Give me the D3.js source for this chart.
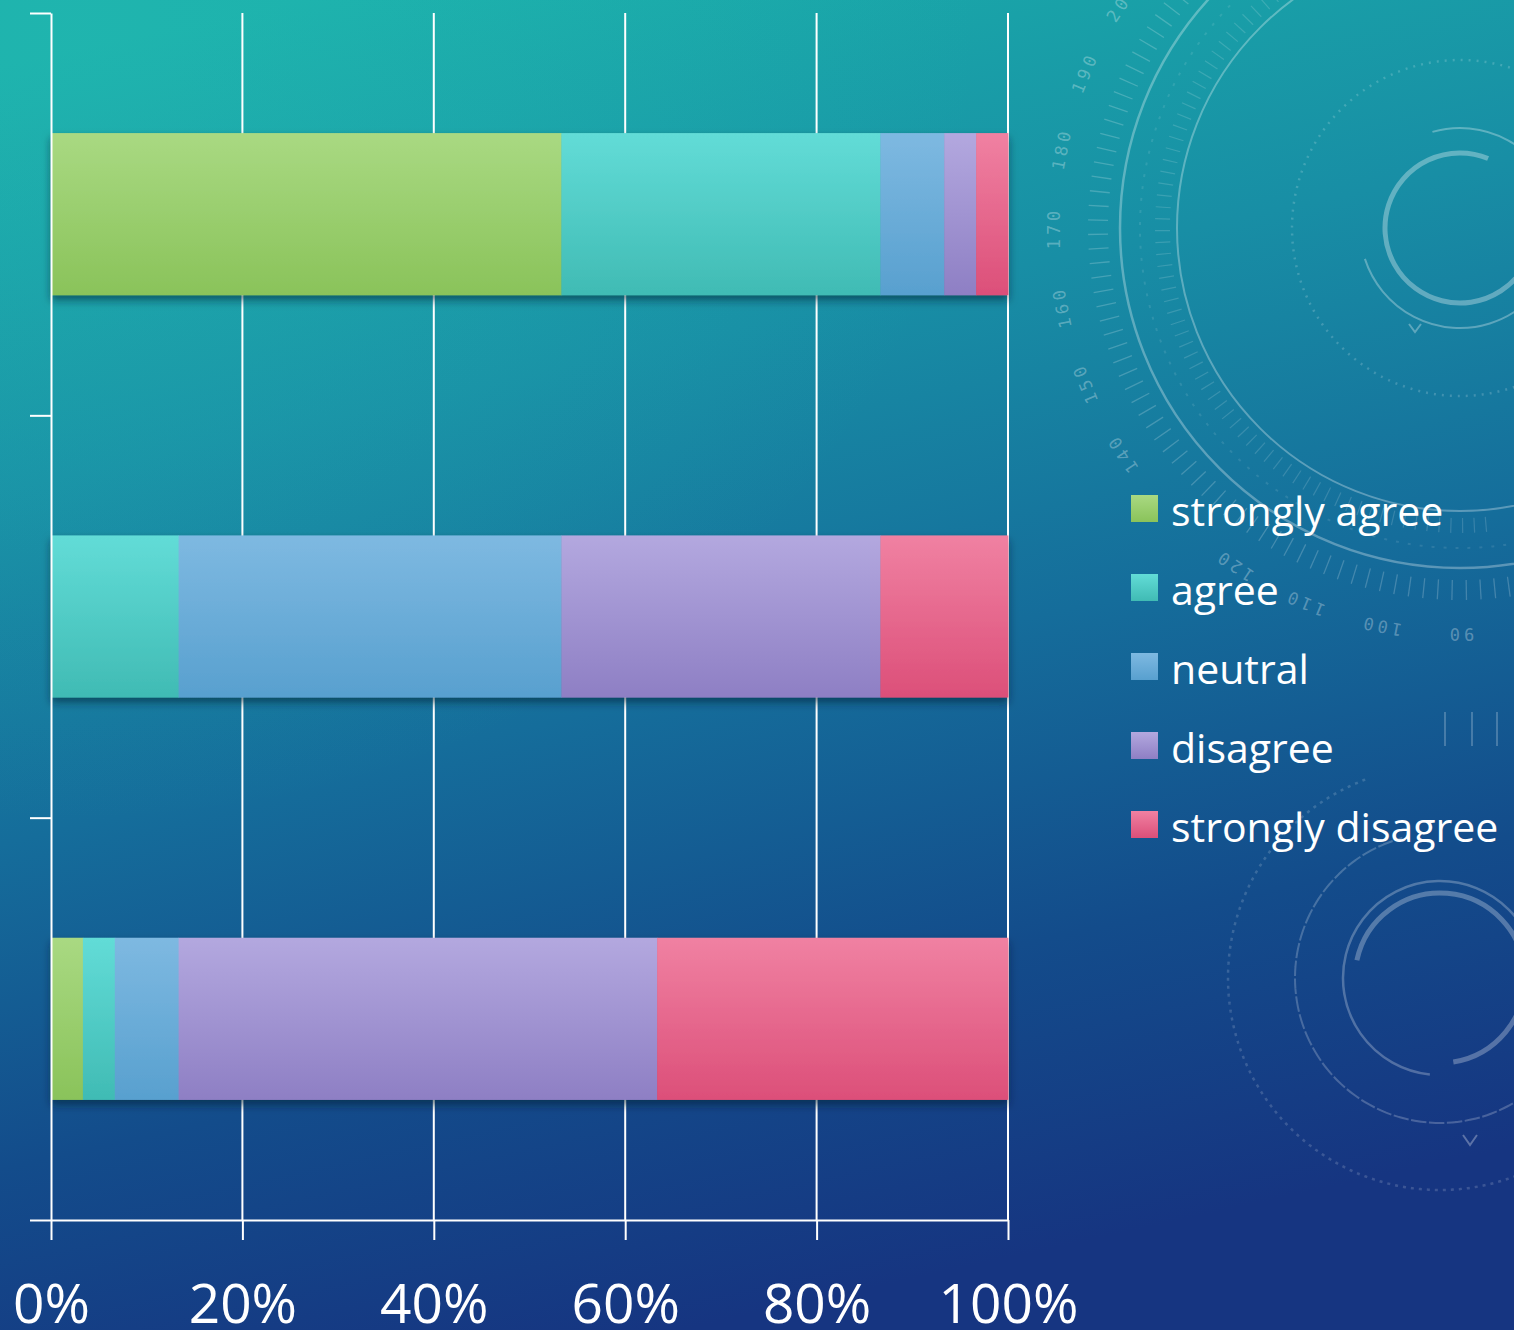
<!DOCTYPE html>
<html>
<head>
<meta charset="utf-8">
<script src="https://cdn.jsdelivr.net/npm/d3@7"></script>
<style>
  html, body { margin: 0; padding: 0; background: #16609a; }
  svg { display: block; }
</style>
</head>
<body>
<svg id="chart" width="1514" height="1330"></svg>
<script>
// Survey responses per statement (counts out of 30), top bar first
const statements = ["Statement 1", "Statement 2", "Statement 3"];
const stronglyAgree    = [16, 0, 1];
const agree            = [10, 4, 1];
const neutral          = [2, 12, 2];
const disagree         = [1, 10, 15];
const stronglyDisagree = [1, 4, 11];

const responseKeys   = ["stronglyAgree", "agree", "neutral", "disagree", "stronglyDisagree"];
const responseLabels = ["strongly agree", "agree", "neutral", "disagree", "strongly disagree"];
const xTicks = [0, 0.2, 0.4, 0.6, 0.8, 1];

// top / bottom colour of each response gradient
const colorTop    = ["#a9d982", "#62dcd7", "#7eb9e1", "#b3a8df", "#f081a2"];
const colorBottom = ["#8ac35a", "#40bbb4", "#58a0cf", "#8e7fc4", "#dc4f79"];

const rows = statements.map((s, i) => ({
  statement: s,
  stronglyAgree: stronglyAgree[i],
  agree: agree[i],
  neutral: neutral[i],
  disagree: disagree[i],
  stronglyDisagree: stronglyDisagree[i]
}));

const W = 1514, H = 1330;
const svg = d3.select("#chart");
const defs = svg.append("defs");

// background gradient
const bg = defs.append("linearGradient").attr("id", "bg")
  .attr("x1", "0.2").attr("y1", "0").attr("x2", "0.45").attr("y2", "1");
[["0", "#1aaeaa"], ["0.3", "#188ea5"], ["0.55", "#156d9b"], ["0.78", "#134c8b"], ["1", "#163581"]]
  .forEach(([o, c]) => bg.append("stop").attr("offset", o).attr("stop-color", c));

const glow = defs.append("radialGradient").attr("id", "glow")
  .attr("cx", "0.05").attr("cy", "0.02").attr("r", "0.6");
glow.append("stop").attr("offset", "0").attr("stop-color", "#2cc4b8").attr("stop-opacity", 0.3);
glow.append("stop").attr("offset", "1").attr("stop-color", "#2cc4b8").attr("stop-opacity", 0);

responseKeys.forEach((k, i) => {
  const g = defs.append("linearGradient").attr("id", "grad-" + k)
    .attr("x1", 0).attr("y1", 0).attr("x2", 0).attr("y2", 1);
  g.append("stop").attr("offset", "0").attr("stop-color", colorTop[i]);
  g.append("stop").attr("offset", "1").attr("stop-color", colorBottom[i]);
});

const shadow = defs.append("filter").attr("id", "shadow")
  .attr("x", "-5%").attr("y", "-10%").attr("width", "110%").attr("height", "130%");
shadow.append("feDropShadow").attr("dx", 0).attr("dy", 5).attr("stdDeviation", 4)
  .attr("flood-color", "#021a33").attr("flood-opacity", 0.55);

svg.append("rect").attr("width", W).attr("height", H).attr("fill", "url(#bg)");
svg.append("rect").attr("width", W).attr("height", H).attr("fill", "url(#glow)");

// ---- decorative HUD rings on the right ----
const deco = svg.append("g").attr("fill", "none").attr("stroke", "#ffffff");
const deg = Math.PI / 180;
const arcPath = (r, a0, a1) => d3.arc()({ innerRadius: r, outerRadius: r, startAngle: a0 * deg, endAngle: a1 * deg });

const ringA = deco.append("g").attr("transform", "translate(1460,228)");
ringA.append("path").attr("d", arcPath(75, 100, 382)).attr("stroke-width", 5).attr("stroke-opacity", 0.32);
ringA.append("path").attr("d", arcPath(100, -16, 252)).attr("stroke-width", 2).attr("stroke-opacity", 0.3);
ringA.append("circle").attr("r", 168).attr("stroke-width", 2.5).attr("stroke-opacity", 0.18).attr("stroke-dasharray", "2 6");
ringA.append("circle").attr("r", 283).attr("stroke-width", 2).attr("stroke-opacity", 0.3);
ringA.append("circle").attr("r", 340).attr("stroke-width", 2.5).attr("stroke-opacity", 0.3);
ringA.append("circle").attr("r", 320).attr("stroke-width", 2).attr("stroke-opacity", 0.1).attr("stroke-dasharray", "3 9");
// graduation ticks
d3.range(170, 330, 2.25).forEach(a => {
  ringA.append("line").attr("x1", 0).attr("x2", 0).attr("y1", -352).attr("y2", -372)
    .attr("transform", `rotate(${a})`).attr("stroke-width", 1.3).attr("stroke-opacity", 0.2);
});
d3.range(175, 340, 2.25).forEach(a => {
  ringA.append("line").attr("x1", 0).attr("x2", 0).attr("y1", -290).attr("y2", -305)
    .attr("transform", `rotate(${a})`).attr("stroke-width", 1.2).attr("stroke-opacity", 0.15);
});
const dialNumbers = [90, 100, 110, 120, 140, 150, 160, 170, 180, 190, 200];
ringA.selectAll("text.dial").data(dialNumbers).join("text")
  .attr("class", "dial")
  .attr("transform", d => `rotate(${180 + (d - 90) * 1.125}) translate(0,-400)`)
  .attr("text-anchor", "middle")
  .attr("stroke", "none").attr("fill", "#ffffff").attr("fill-opacity", 0.3)
  .attr("font-family", "DejaVu Sans Mono, monospace").attr("font-size", 17)
  .attr("letter-spacing", 4)
  .text(d => d);
// chevron markers on the rings
ringA.append("path").attr("d", "M-12,8 L0,-8 L12,8").attr("stroke-width", 5).attr("stroke-opacity", 0.3)
  .attr("transform", "rotate(-30) translate(0,-312)");
ringA.append("path").attr("d", "M-6,-4 L0,4 L6,-4").attr("stroke-width", 2).attr("stroke-opacity", 0.3)
  .attr("transform", "translate(-45,100)");

const ringB = deco.append("g").attr("transform", "translate(1440,978)");
ringB.append("path").attr("d", arcPath(85, 282, 531)).attr("stroke-width", 5).attr("stroke-opacity", 0.28);
ringB.append("path").attr("d", arcPath(97, 186, 480)).attr("stroke-width", 2.5).attr("stroke-opacity", 0.26);
ringB.append("path").attr("d", arcPath(145, 100, 345)).attr("stroke-width", 2).attr("stroke-opacity", 0.22).attr("stroke-dasharray", "10 8");
ringB.append("path").attr("d", arcPath(212, 120, 340)).attr("stroke-width", 2.5).attr("stroke-opacity", 0.16).attr("stroke-dasharray", "2 6");
ringB.append("path").attr("d", "M-7,-5 L0,5 L7,-5").attr("stroke-width", 2).attr("stroke-opacity", 0.3)
  .attr("transform", "translate(30,162)");
// vertical marks near the legend
[1445, 1472, 1497].forEach(x => deco.append("line").attr("x1", x).attr("x2", x).attr("y1", 712).attr("y2", 746)
  .attr("stroke-width", 2).attr("stroke-opacity", 0.22));

// ---- chart ----
const x = d3.scaleLinear().domain([0, 1]).range([51, 1008]);
const y = d3.scaleBand().domain(statements).range([13, 1220]).paddingInner(0.597).paddingOuter(0.2985);
const yEdges = d3.scaleLinear().domain([0, statements.length]).range([1220, 13]);

// vertical gridlines
svg.append("g").selectAll("line").data(xTicks.slice(1)).join("line")
  .attr("x1", d => x(d)).attr("x2", d => x(d))
  .attr("y1", 13).attr("y2", 1220)
  .attr("stroke", "#ffffff").attr("stroke-width", 2);

const stack = d3.stack().keys(responseKeys).offset(d3.stackOffsetExpand);
const series = stack(rows);

const barsG = svg.append("g");
statements.forEach((s, i) => {
  const row = barsG.append("g").attr("filter", "url(#shadow)");
  series.forEach((ser) => {
    const d = ser[i];
    if (d[1] - d[0] <= 0) return;
    row.append("rect")
      .attr("x", x(d[0]))
      .attr("width", x(d[1]) - x(d[0]) + 0.4)
      .attr("y", y(s))
      .attr("height", y.bandwidth())
      .attr("fill", `url(#grad-${ser.key})`);
  });
});

// y axis with ticks at category boundaries
const yAxis = svg.append("g").attr("transform", "translate(51,0)")
  .call(d3.axisLeft(yEdges).tickValues(d3.range(statements.length + 1)).tickFormat("").tickSize(21).tickSizeOuter(0));
yAxis.selectAll("path, line").attr("stroke", "#ffffff").attr("stroke-width", 2);

// x axis
const xAxis = svg.append("g").attr("transform", "translate(0,1220)")
  .call(d3.axisBottom(x).tickValues(xTicks).tickFormat(d3.format(".0%")).tickSize(20).tickSizeOuter(0));
xAxis.selectAll("path, line").attr("stroke", "#ffffff").attr("stroke-width", 2);
xAxis.selectAll("text")
  .attr("fill", "#ffffff")
  .attr("font-family", "'Open Sans', sans-serif")
  .attr("font-size", 55)
  .attr("dy", null)
  .attr("y", 103);

// legend
const legend = svg.append("g").attr("transform", "translate(1131,495)");
const item = legend.selectAll("g").data(responseKeys).join("g")
  .attr("transform", (d, i) => `translate(0,${i * 79})`);
item.append("rect").attr("width", 27).attr("height", 27).attr("fill", d => `url(#grad-${d})`);
item.append("text")
  .attr("x", 40).attr("y", 31)
  .attr("fill", "#ffffff")
  .attr("font-family", "'Open Sans', sans-serif")
  .attr("font-size", 41)
  .text((d, i) => responseLabels[i]);
</script>
</body>
</html>
